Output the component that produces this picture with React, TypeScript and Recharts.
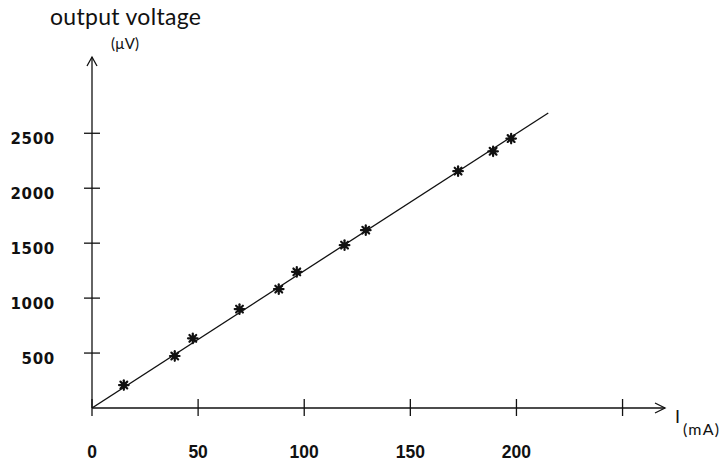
import { ComposedChart, Line, ReferenceDot, Scatter, XAxis, YAxis } from "recharts";

const currentMa = [15, 39, 47.5, 69.5, 88, 96.5, 119, 129, 172.5, 189, 197.5];
const voltageUv = [209, 473, 634, 900, 1082, 1239, 1482, 1618, 2155, 2336, 2452];

const fitCurrent = [0, 215];
const fitVoltage = [0, 2685];

const xTicks = [0, 50, 100, 150, 200, 250];
const xLabels = ["0", "50", "100", "150", "200", ""];
const yTicks = [0, 500, 1000, 1500, 2000, 2500];
const yLabels = ["", "500", "1000", "1500", "2000", "2500"];

const xMax = 270;
const yMax = 3194;

const points = currentMa.map((x, i) => ({ x, y: voltageUv[i] }));
const fit = fitCurrent.map((x, i) => ({ x, y: fitVoltage[i] }));

const ink = "#111";

function XTick({ x, y, payload }: any) {
  const label = xLabels[xTicks.indexOf(payload.value)];
  return (
    <g>
      <line x1={x} x2={x} y1={y - 9} y2={y + 8} stroke={ink} strokeWidth={1.3} />
      {label && (
        <text x={x} y={y + 50} textAnchor="middle" fontFamily="Liberation Sans, Arial" fontWeight="bold" fontSize={17.5} fill={ink}>
          {label}
        </text>
      )}
    </g>
  );
}

function YTick({ x, y, payload }: any) {
  const label = yLabels[yTicks.indexOf(payload.value)];
  if (!label) return <g />;
  return (
    <g>
      <line x1={x - 8} x2={x + 8} y1={y} y2={y} stroke={ink} strokeWidth={1.3} />
      <text x={x - 37} y={y + 11} textAnchor="end" fontFamily="DejaVu Sans" fontWeight="bold" fontSize={15} letterSpacing={0.7} fill={ink}>
        {label}
      </text>
    </g>
  );
}

function Star({ cx, cy }: any) {
  const r = 4.8;
  const d = r * 0.707;
  return (
    <g stroke={ink} strokeWidth={2.2} strokeLinecap="round">
      <line x1={cx - r} x2={cx + r} y1={cy} y2={cy} />
      <line x1={cx} x2={cx} y1={cy - r} y2={cy + r} />
      <line x1={cx - d} x2={cx + d} y1={cy - d} y2={cy + d} />
      <line x1={cx - d} x2={cx + d} y1={cy + d} y2={cy - d} />
      <circle cx={cx} cy={cy} r={2.8} fill={ink} stroke="none" />
    </g>
  );
}

function ArrowRight({ cx, cy }: any) {
  return <path d={`M${cx - 10},${cy - 5} L${cx},${cy} L${cx - 10},${cy + 5}`} fill="none" stroke={ink} strokeWidth={1.3} />;
}

function ArrowUp({ cx, cy }: any) {
  return <path d={`M${cx - 5},${cy + 9} L${cx},${cy} L${cx + 5},${cy + 9}`} fill="none" stroke={ink} strokeWidth={1.3} />;
}

export default function App() {
  return (
    <div style={{ position: "relative", width: 728, height: 464, background: "#fff", overflow: "hidden" }}>
      <style>{"body{margin:0;overflow:hidden}"}</style>
      <ComposedChart width={728} height={464} margin={{ top: 57, right: 63, bottom: 0, left: 0 }}>
        <XAxis
          type="number"
          dataKey="x"
          domain={[0, xMax]}
          ticks={xTicks}
          allowDataOverflow
          height={56}
          tickSize={0}
          tickMargin={0}
          tickLine={false}
          axisLine={{ stroke: ink, strokeWidth: 1.3 }}
          tick={<XTick />}
        />
        <YAxis
          type="number"
          dataKey="y"
          domain={[0, yMax]}
          ticks={yTicks}
          allowDataOverflow
          width={92}
          tickSize={0}
          tickMargin={0}
          tickLine={false}
          axisLine={{ stroke: ink, strokeWidth: 1.3 }}
          tick={<YTick />}
        />
        <Line data={fit} dataKey="y" stroke={ink} strokeWidth={1.3} dot={false} isAnimationActive={false} />
        <Scatter data={points} dataKey="y" shape={<Star />} isAnimationActive={false} />
        <ReferenceDot x={xMax} y={0} ifOverflow="visible" shape={<ArrowRight />} />
        <ReferenceDot x={0} y={yMax} ifOverflow="visible" shape={<ArrowUp />} />
      </ComposedChart>
      <svg width={728} height={464} style={{ position: "absolute", left: 0, top: 0, pointerEvents: "none" }}>
        <text x={50} y={25} fontFamily="Lato" fontSize={23} letterSpacing={0.3} fill={ink}>output voltage</text>
        <text x={111} y={49} fontFamily="Lato" fontSize={15} fill={ink}>(µV)</text>
        <text x={675} y={423} fontFamily="Lato" fontSize={18} fill={ink}>I</text>
        <text x={683} y={435} fontFamily="Lato" fontSize={16} letterSpacing={1.2} fill={ink}>(mA)</text>
      </svg>
    </div>
  );
}
